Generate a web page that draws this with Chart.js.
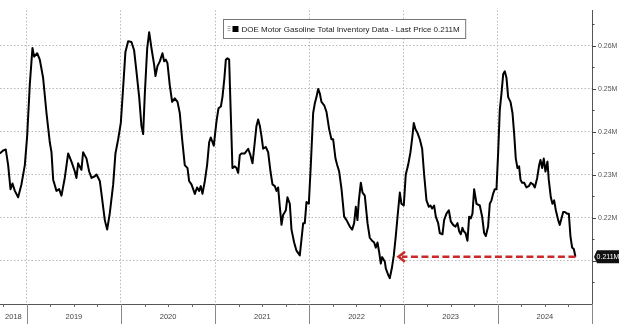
<!DOCTYPE html>
<html>
<head>
<meta charset="utf-8">
<script src="https://cdn.jsdelivr.net/npm/chart.js@4.4.1/dist/chart.umd.min.js"></script>
<style>
  html, body { margin: 0; padding: 0; background: #fff; }
</style>
</head>
<body>
<canvas id="gasChart" width="620" height="324"></canvas>
<script>
// weekly DOE motor gasoline stocks, dates as decimal years
var weeks = [
  2018.713, 2018.749, 2018.777, 2018.802, 2018.827, 2018.848, 2018.873, 2018.908, 2018.943, 2018.979,
  2019.004, 2019.032, 2019.060, 2019.078, 2019.110, 2019.138, 2019.173, 2019.209, 2019.244, 2019.262,
  2019.280, 2019.315, 2019.343, 2019.368, 2019.403, 2019.439, 2019.474, 2019.510, 2019.527, 2019.545,
  2019.580, 2019.598, 2019.634, 2019.662, 2019.687, 2019.722, 2019.740, 2019.775, 2019.793, 2019.828,
  2019.853, 2019.881, 2019.917, 2019.941, 2019.970, 2019.998,
  2020.023, 2020.047, 2020.076, 2020.111, 2020.139, 2020.164, 2020.193, 2020.217, 2020.235, 2020.253,
  2020.278, 2020.299, 2020.324, 2020.352, 2020.366, 2020.387, 2020.412, 2020.440, 2020.458, 2020.476,
  2020.493, 2020.518, 2020.543, 2020.571, 2020.600, 2020.624, 2020.649, 2020.677, 2020.706, 2020.723,
  2020.748, 2020.784, 2020.808, 2020.830, 2020.847, 2020.865, 2020.890, 2020.914, 2020.936, 2020.953,
  2020.985,
  2021.014, 2021.035, 2021.060, 2021.077, 2021.098, 2021.113, 2021.130, 2021.148, 2021.162, 2021.183,
  2021.208, 2021.226, 2021.244, 2021.261, 2021.279, 2021.314, 2021.350, 2021.374, 2021.396, 2021.420,
  2021.438, 2021.456, 2021.474, 2021.491, 2021.509, 2021.537, 2021.562, 2021.587, 2021.608, 2021.633,
  2021.651, 2021.668, 2021.686, 2021.704, 2021.721, 2021.750, 2021.767, 2021.792, 2021.810, 2021.838,
  2021.863, 2021.898, 2021.916, 2021.934, 2021.951, 2021.969, 2021.994,
  2022.015, 2022.040, 2022.057, 2022.075, 2022.093, 2022.111, 2022.128, 2022.157, 2022.181, 2022.210,
  2022.234, 2022.252, 2022.277, 2022.295, 2022.316, 2022.341, 2022.369, 2022.394, 2022.429, 2022.454,
  2022.475, 2022.493, 2022.510, 2022.525, 2022.546, 2022.564, 2022.588, 2022.617, 2022.641, 2022.666,
  2022.687, 2022.705, 2022.723, 2022.741, 2022.758, 2022.772, 2022.801, 2022.811, 2022.836, 2022.853,
  2022.875, 2022.896, 2022.917, 2022.942, 2022.960, 2022.977,
  2023.002, 2023.023, 2023.048, 2023.073, 2023.094, 2023.108, 2023.126, 2023.147, 2023.172, 2023.197,
  2023.218, 2023.243, 2023.268, 2023.285, 2023.303, 2023.324, 2023.342, 2023.367, 2023.384, 2023.413,
  2023.430, 2023.455, 2023.480, 2023.501, 2023.526, 2023.551, 2023.572, 2023.590, 2023.607, 2023.625,
  2023.639, 2023.657, 2023.678, 2023.696, 2023.713, 2023.731, 2023.749, 2023.774, 2023.809, 2023.834,
  2023.855, 2023.873, 2023.897, 2023.915, 2023.933, 2023.950, 2023.968, 2023.986,
  2024.004, 2024.021, 2024.039, 2024.057, 2024.074, 2024.092, 2024.110, 2024.135, 2024.156, 2024.173,
  2024.191, 2024.209, 2024.226, 2024.241, 2024.258, 2024.280, 2024.304, 2024.329, 2024.350, 2024.375,
  2024.393, 2024.418, 2024.439, 2024.453, 2024.471, 2024.488, 2024.506, 2024.527, 2024.541, 2024.563,
  2024.580, 2024.598, 2024.616, 2024.641, 2024.658, 2024.676, 2024.694, 2024.711, 2024.736, 2024.754,
  2024.771, 2024.789, 2024.807, 2024.824
];
var inventory = [
  0.2350, 0.2357, 0.2359, 0.2323, 0.2267, 0.2280, 0.2263, 0.2248, 0.2278, 0.2323,
  0.2391, 0.2511, 0.2595, 0.2575, 0.2583, 0.2568, 0.2526, 0.2444, 0.2376, 0.2353,
  0.2289, 0.2263, 0.2267, 0.2252, 0.2293, 0.2350, 0.2331, 0.2308, 0.2293, 0.2327,
  0.2312, 0.2353, 0.2338, 0.2308, 0.2293, 0.2297, 0.2301, 0.2286, 0.2256, 0.2195,
  0.2173, 0.2211, 0.2278, 0.2350, 0.2383, 0.2421,
  0.2504, 0.2586, 0.2611, 0.2609, 0.2590, 0.2541, 0.2481, 0.2414, 0.2395, 0.2489,
  0.2594, 0.2632, 0.2594, 0.2556, 0.2530, 0.2553, 0.2564, 0.2583, 0.2564, 0.2568,
  0.2560, 0.2508, 0.2470, 0.2478, 0.2470, 0.2444, 0.2383, 0.2323, 0.2316, 0.2286,
  0.2278, 0.2256, 0.2271, 0.2263, 0.2274, 0.2256, 0.2286, 0.2323, 0.2376, 0.2387,
  0.2368,
  0.2425, 0.2455, 0.2459, 0.2481, 0.2526, 0.2568, 0.2571, 0.2568, 0.2466, 0.2316,
  0.2320, 0.2316, 0.2305, 0.2346, 0.2350, 0.2350, 0.2361, 0.2346, 0.2327, 0.2376,
  0.2414, 0.2429, 0.2414, 0.2391, 0.2361, 0.2365, 0.2353, 0.2308, 0.2278, 0.2274,
  0.2263, 0.2271, 0.2226, 0.2184, 0.2207, 0.2218, 0.2248, 0.2233, 0.2173, 0.2143,
  0.2124, 0.2113, 0.2150, 0.2188, 0.2188, 0.2237, 0.2233,
  0.2323, 0.2444, 0.2466, 0.2481, 0.2500, 0.2489, 0.2470, 0.2462, 0.2447, 0.2406,
  0.2383, 0.2383, 0.2338, 0.2323, 0.2308, 0.2267, 0.2203, 0.2195, 0.2180, 0.2173,
  0.2188, 0.2226, 0.2195, 0.2241, 0.2282, 0.2259, 0.2252, 0.2188, 0.2154, 0.2147,
  0.2143, 0.2131, 0.2143, 0.2120, 0.2094, 0.2109, 0.2098, 0.2083, 0.2068, 0.2060,
  0.2083, 0.2113, 0.2158, 0.2218, 0.2259, 0.2233,
  0.2229, 0.2301, 0.2323, 0.2353, 0.2391, 0.2421, 0.2406, 0.2398, 0.2383, 0.2361,
  0.2301, 0.2241, 0.2226, 0.2229, 0.2222, 0.2229, 0.2203, 0.2188, 0.2165, 0.2162,
  0.2195, 0.2210, 0.2218, 0.2192, 0.2184, 0.2180, 0.2188, 0.2169, 0.2162, 0.2177,
  0.2169, 0.2165, 0.2147, 0.2203, 0.2199, 0.2210, 0.2267, 0.2233, 0.2229, 0.2203,
  0.2165, 0.2158, 0.2180, 0.2233, 0.2241, 0.2256, 0.2267, 0.2267,
  0.2353, 0.2451, 0.2489, 0.2534, 0.2541, 0.2526, 0.2481, 0.2470, 0.2444, 0.2398,
  0.2338, 0.2316, 0.2320, 0.2289, 0.2282, 0.2282, 0.2271, 0.2274, 0.2282, 0.2278,
  0.2271, 0.2293, 0.2323, 0.2335, 0.2316, 0.2338, 0.2308, 0.2331, 0.2289, 0.2248,
  0.2233, 0.2241, 0.2218, 0.2195, 0.2184, 0.2199, 0.2214, 0.2214, 0.2210, 0.2210,
  0.2158, 0.2131, 0.2128, 0.2110
];
var yearTicks = [2019, 2020, 2021, 2022, 2023, 2024];
var yearLabels = [2018, 2019, 2020, 2021, 2022, 2023, 2024];
var priceTicks = [0.21, 0.22, 0.23, 0.24, 0.25, 0.26];
var lastPrice = 0.211;
var matchDate = 2022.93;   // last time stocks were this low
var seriesName = 'DOE Motor Gasoline Total Inventory Data';

var FONT = "'Liberation Sans', Arial, sans-serif";

var points = weeks.map(function(w, i){ return {x: w, y: inventory[i]}; });

var decorations = {
  id: 'decorations',
  afterDatasetsDraw: function(chart){
    var ctx = chart.ctx, xs = chart.scales.x, ys = chart.scales.y;
    var x1 = xs.getPixelForValue(weeks[weeks.length - 1]);
    var x0 = xs.getPixelForValue(matchDate);
    var yv = ys.getPixelForValue(lastPrice);
    // red dashed arrow back to the matching low
    ctx.save();
    ctx.strokeStyle = '#c92a2a';
    ctx.lineWidth = 2.6;
    ctx.setLineDash([7, 3.5]);
    ctx.beginPath();
    ctx.moveTo(x1, yv);
    ctx.lineTo(x0 + 5, yv);
    ctx.stroke();
    ctx.setLineDash([]);
    ctx.lineWidth = 2.6;
    ctx.lineJoin = 'miter';
    ctx.beginPath();
    ctx.moveTo(x0 + 8, yv - 5);
    ctx.lineTo(x0 + 1.5, yv);
    ctx.lineTo(x0 + 8, yv + 5);
    ctx.stroke();
    ctx.restore();
  },
  afterDraw: function(chart){
    var ctx = chart.ctx, xs = chart.scales.x, ys = chart.scales.y, a = chart.chartArea;
    ctx.save();

    // y axis tick marks, major every 0.01 and minor between
    ctx.strokeStyle = '#444';
    ctx.lineWidth = 1;
    for (var k = 41; k <= 53; k++) {
      var py = Math.round(ys.getPixelForValue(k * 0.005)) + 0.5;
      var len = (k % 2 === 0) ? 4 : 2.5;
      ctx.beginPath();
      ctx.moveTo(a.right, py);
      ctx.lineTo(a.right + len, py);
      ctx.stroke();
    }

    // x axis: quarter ticks and year separators
    var q0 = Math.ceil(xs.min * 4) / 4;
    for (var t = q0; t <= xs.max + 1e-6; t += 0.25) {
      var px = Math.round(xs.getPixelForValue(t)) + 0.5;
      ctx.beginPath();
      if (Math.abs(t - Math.round(t)) < 1e-6) {
        ctx.strokeStyle = '#888';
        ctx.moveTo(px, a.bottom);
        ctx.lineTo(px, chart.height);
      } else {
        ctx.strokeStyle = '#666';
        ctx.moveTo(px, a.bottom);
        ctx.lineTo(px, a.bottom + 3);
      }
      ctx.stroke();
    }

    // year labels centred on the visible part of each year
    ctx.fillStyle = '#444';
    ctx.font = '7.5px ' + FONT;
    ctx.textAlign = 'center';
    ctx.textBaseline = 'middle';
    yearLabels.forEach(function(y){
      var l = xs.getPixelForValue(Math.max(y, xs.min));
      var r = xs.getPixelForValue(Math.min(y + 1, xs.max));
      ctx.fillText(String(y), (l + r) / 2, a.bottom + 13);
    });

    // legend box
    var text = seriesName + ' - Last Price ' + lastPrice + 'M';
    ctx.font = '8px ' + FONT;
    var tw = ctx.measureText(text).width;
    var bx = 223.5, by = 19.5, bh = 19;
    var bw = tw + 24;
    ctx.fillStyle = '#fff';
    ctx.fillRect(bx, by, bw, bh);
    ctx.strokeStyle = '#777';
    ctx.lineWidth = 1;
    ctx.strokeRect(bx, by, bw, bh);
    ctx.strokeStyle = '#aaa';
    for (var i = 0; i < 3; i++) {
      ctx.beginPath();
      ctx.moveTo(bx + 4, by + 7 + i * 2);
      ctx.lineTo(bx + 7, by + 7 + i * 2);
      ctx.stroke();
    }
    ctx.fillStyle = '#000';
    ctx.fillRect(bx + 9, by + 6.5, 6, 6);
    ctx.fillStyle = '#222';
    ctx.textAlign = 'left';
    ctx.fillText(text, bx + 18, by + bh / 2 + 0.5);

    // last price tag on the right axis
    var yv = ys.getPixelForValue(lastPrice);
    var tx = a.right + 2;
    ctx.fillStyle = '#111';
    ctx.beginPath();
    ctx.moveTo(tx, yv);
    ctx.lineTo(tx + 3, yv - 6.5);
    ctx.lineTo(chart.width - 1, yv - 6.5);
    ctx.lineTo(chart.width - 1, yv + 6.5);
    ctx.lineTo(tx + 3, yv + 6.5);
    ctx.closePath();
    ctx.fill();
    ctx.fillStyle = '#fff';
    ctx.font = '7px ' + FONT;
    ctx.textAlign = 'center';
    ctx.fillText(lastPrice + 'M', (tx + 3 + chart.width - 1) / 2, yv + 0.5);

    ctx.restore();
  }
};

new Chart(document.getElementById('gasChart'), {
  type: 'line',
  data: {
    datasets: [{
      label: seriesName,
      data: points,
      borderColor: '#000',
      borderWidth: 2,
      pointRadius: 0,
      tension: 0,
      fill: false,
      borderJoinStyle: 'round'
    }]
  },
  options: {
    responsive: false,
    animation: false,
    devicePixelRatio: 1,
    layout: { padding: 0 },
    plugins: { legend: { display: false }, tooltip: { enabled: false } },
    scales: {
      x: {
        type: 'linear',
        min: 2018.7155,
        max: 2025,
        afterBuildTicks: function(s){ s.ticks = yearTicks.map(function(v){ return {value: v}; }); },
        afterFit: function(s){ s.height = 20; },
        ticks: { display: false },
        grid: { color: '#b8b8b8', lineWidth: 1, drawTicks: false },
        border: { display: true, color: '#555', width: 1, dash: [1.5, 2] }
      },
      y: {
        position: 'right',
        min: 0.2,
        max: 0.2683,
        afterBuildTicks: function(s){ s.ticks = priceTicks.map(function(v){ return {value: v}; }); },
        afterFit: function(s){ s.width = 28; },
        ticks: {
          padding: 6,
          color: '#555',
          font: { family: FONT, size: 7 },
          callback: function(v){
            return Math.abs(v - lastPrice) < 0.006 ? '' : v.toFixed(2) + 'M';
          }
        },
        grid: { color: '#b8b8b8', lineWidth: 1, drawTicks: false },
        border: { display: true, color: '#555', width: 1, dash: [1.5, 2] }
      }
    }
  },
  plugins: [decorations]
});
</script>
</body>
</html>
